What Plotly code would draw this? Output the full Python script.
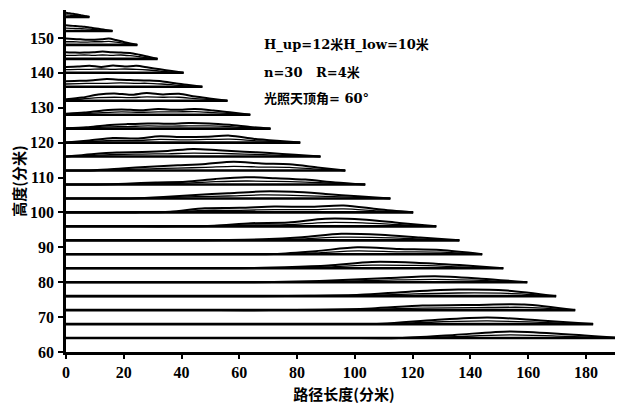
import plotly.graph_objects as go

# baseline heights of the profiles (分米)
HEIGHTS = [156, 152, 148, 144, 140, 136, 132, 128, 124, 120, 116, 112,
           108, 104, 100, 96, 92, 88, 84, 80, 76, 72, 68, 64]
# path length at which each profile ends (分米)
END_X = [8.1, 16.1, 24.7, 31.7, 40.7, 47.2, 55.9, 63.8, 70.8, 81.1, 88.1, 96.7,
         103.6, 112.3, 120.2, 128.2, 136.2, 144.1, 151.4, 159.7, 169.7, 176.3, 182.5, 192.2]
# sampling fractions of each profile length
FRAC = [0, 0.1, 0.2, 0.3, 0.4, 0.5, 0.6, 0.7, 0.8, 0.9, 1.0]
# outer upper-curve height above baseline at each fraction
UPPER = [
    [1.2, 1.1, 1.0, 0.9, 0.8, 0.7, 0.55, 0.4, 0.3, 0.15, 0],
    [1.6, 1.5, 1.4, 1.3, 1.2, 1.0, 0.8, 0.6, 0.4, 0.2, 0],
    [1.8, 1.7, 1.6, 1.5, 1.5, 1.6, 1.8, 1.4, 0.9, 0.4, 0],
    [1.9, 1.8, 1.8, 1.9, 2.1, 1.9, 1.8, 1.7, 1.2, 0.6, 0],
    [1.7, 1.8, 2.0, 1.7, 2.1, 1.8, 2.0, 1.5, 1.0, 0.5, 0],
    [1.6, 1.7, 1.9, 2.2, 2.0, 1.9, 1.8, 1.6, 1.0, 0.5, 0],
    [0.4, 0.9, 1.8, 2.1, 1.7, 2.2, 1.8, 2.0, 1.2, 0.6, 0],
    [0.3, 0.6, 1.2, 1.5, 1.3, 1.6, 1.4, 1.6, 1.2, 0.6, 0],
    [0.1, 0.4, 1.0, 1.3, 1.5, 1.4, 1.6, 1.5, 1.1, 0.5, 0],
    [0.0, 0.6, 1.3, 1.2, 1.8, 1.6, 1.7, 2.0, 1.1, 0.5, 0],
    [0.0, 0.7, 1.2, 1.3, 1.6, 2.2, 1.8, 1.4, 1.0, 0.5, 0],
    [0.0, 0.1, 0.6, 1.1, 1.5, 1.9, 2.5, 2.0, 1.8, 0.9, 0],
    [0.0, 0.0, 0.2, 0.6, 0.8, 1.6, 2.1, 1.8, 1.4, 0.6, 0],
    [0.0, 0.0, 0.0, 0.4, 1.0, 1.5, 2.0, 1.9, 1.3, 0.6, 0],
    [0.0, 0.0, 0.0, 0.2, 1.2, 1.3, 1.7, 1.6, 2.0, 0.9, 0],
    [0.0, 0.0, 0.0, 0.0, 0.2, 0.9, 1.1, 2.2, 2.0, 1.0, 0],
    [0.0, 0.0, 0.0, 0.0, 0.1, 0.3, 0.9, 1.9, 1.6, 0.8, 0],
    [0.0, 0.0, 0.0, 0.0, 0.0, 0.1, 0.9, 2.0, 1.5, 1.2, 0],
    [0.0, 0.0, 0.0, 0.0, 0.0, 0.3, 0.8, 1.8, 1.6, 0.9, 0],
    [0.0, 0.0, 0.0, 0.0, 0.0, 0.2, 0.6, 1.2, 1.7, 1.0, 0],
    [0.0, 0.0, 0.0, 0.0, 0.0, 0.1, 0.4, 1.3, 1.9, 1.6, 0],
    [0.0, 0.0, 0.0, 0.0, 0.0, 0.1, 0.5, 1.3, 1.5, 1.6, 0],
    [0.0, 0.0, 0.0, 0.0, 0.0, 0.0, 0.1, 1.2, 1.9, 1.0, 0],
    [0.0, 0.0, 0.0, 0.0, 0.0, 0.0, 0.0, 0.9, 1.9, 1.1, 0],
]
# inner curve height above baseline at each fraction
INNER = [
    [0.6, 0.55, 0.5, 0.45, 0.4, 0.35, 0.3, 0.2, 0.15, 0.1, 0],
    [0.8, 0.75, 0.7, 0.65, 0.6, 0.5, 0.4, 0.3, 0.2, 0.1, 0],
    [0.9, 0.9, 0.8, 0.8, 0.9, 0.9, 1.0, 0.8, 0.5, 0.2, 0],
    [1.0, 1.0, 1.1, 1.0, 1.1, 1.0, 1.1, 0.9, 0.6, 0.3, 0],
    [0.9, 1.0, 1.0, 1.1, 1.0, 1.1, 1.0, 0.8, 0.5, 0.2, 0],
    [0.8, 0.9, 1.0, 1.0, 1.1, 1.0, 1.0, 0.8, 0.5, 0.2, 0],
    [0.2, 0.5, 0.9, 1.0, 0.9, 1.1, 1.0, 1.0, 0.6, 0.3, 0],
    [0.1, 0.3, 0.6, 0.8, 0.7, 0.8, 0.8, 0.9, 0.6, 0.3, 0],
    [0.0, 0.2, 0.5, 0.6, 0.8, 0.7, 0.8, 0.8, 0.6, 0.2, 0],
    [0.0, 0.3, 0.6, 0.6, 0.9, 0.8, 0.9, 1.0, 0.6, 0.2, 0],
    [0.0, 0.3, 0.6, 0.7, 0.8, 1.0, 0.9, 0.7, 0.5, 0.2, 0],
    [0.0, 0.0, 0.3, 0.5, 0.7, 0.9, 1.2, 1.0, 0.9, 0.4, 0],
    [0.0, 0.0, 0.1, 0.3, 0.4, 0.8, 1.0, 0.9, 0.7, 0.3, 0],
    [0.0, 0.0, 0.0, 0.2, 0.5, 0.7, 1.0, 0.9, 0.6, 0.3, 0],
    [0.0, 0.0, 0.0, 0.1, 0.6, 0.6, 0.8, 0.8, 1.0, 0.4, 0],
    [0.0, 0.0, 0.0, 0.0, 0.1, 0.4, 0.5, 1.1, 1.0, 0.5, 0],
    [0.0, 0.0, 0.0, 0.0, 0.0, 0.1, 0.4, 0.9, 0.8, 0.4, 0],
    [0.0, 0.0, 0.0, 0.0, 0.0, 0.0, 0.4, 1.0, 0.7, 0.6, 0],
    [0.0, 0.0, 0.0, 0.0, 0.0, 0.1, 0.4, 0.9, 0.8, 0.4, 0],
    [0.0, 0.0, 0.0, 0.0, 0.0, 0.1, 0.3, 0.6, 0.8, 0.5, 0],
    [0.0, 0.0, 0.0, 0.0, 0.0, 0.0, 0.2, 0.6, 0.9, 0.8, 0],
    [0.0, 0.0, 0.0, 0.0, 0.0, 0.0, 0.2, 0.6, 0.7, 0.8, 0],
    [0.0, 0.0, 0.0, 0.0, 0.0, 0.0, 0.0, 0.6, 0.9, 0.5, 0],
    [0.0, 0.0, 0.0, 0.0, 0.0, 0.0, 0.0, 0.4, 0.9, 0.5, 0],
]

X_TICKS = [0, 20, 40, 60, 80, 100, 120, 140, 160, 180]
Y_TICKS = [60, 70, 80, 90, 100, 110, 120, 130, 140, 150]

NOTE_LINES = ["H_up=12米H_low=10米", "n=30   R=4米", "光照天顶角= 60°"]


def curve_points(offset_rows):
    xs, ys = [], []
    for h, xe, offs in zip(HEIGHTS, END_X, offset_rows):
        xs += [f * xe for f in FRAC] + [None]
        ys += [h + o for o in offs] + [None]
    return xs, ys


base_x, base_y = [], []
for h, xe in zip(HEIGHTS, END_X):
    base_x += [0, xe, None]
    base_y += [h, h, None]
up_x, up_y = curve_points(UPPER)
in_x, in_y = curve_points(INNER)

fig = go.Figure()
fig.add_trace(go.Scatter(x=base_x, y=base_y, mode="lines",
                         line=dict(color="black", width=2.6), hoverinfo="skip"))
fig.add_trace(go.Scatter(x=in_x, y=in_y, mode="lines",
                         line=dict(color="black", width=1.3, shape="spline", smoothing=0.8),
                         hoverinfo="skip"))
fig.add_trace(go.Scatter(x=up_x, y=up_y, mode="lines",
                         line=dict(color="black", width=2.0, shape="spline", smoothing=0.8),
                         hoverinfo="skip"))

tickfont = dict(family="Liberation Serif", size=16, color="black", weight="bold")
cjk = "Noto Sans CJK SC"

# the page body adds an 8px offset, so the figure is 8px smaller on each side
fig.update_layout(
    width=615, height=400,
    margin=dict(l=57.5, r=1, t=2, b=56),
    paper_bgcolor="white", plot_bgcolor="white",
    showlegend=False,
    xaxis=dict(range=[0, 192.5], tickvals=X_TICKS, ticks="outside", ticklen=4,
               tickwidth=1.5, tickcolor="black", showgrid=False, zeroline=False,
               showline=True, linecolor="black", linewidth=2.5, tickfont=tickfont,
               ticklabelstandoff=0, automargin=False,
               title=dict(text="路径长度(分米)", standoff=10,
                          font=dict(family=cjk, size=15, color="black", weight="bold"))),
    yaxis=dict(range=[60, 158], tickvals=Y_TICKS, ticks="outside", ticklen=5,
               tickwidth=1.5, tickcolor="black", showgrid=False, zeroline=False,
               showline=True, linecolor="black", linewidth=2.5, tickfont=tickfont,
               ticklabelstandoff=1, automargin=False,
               title=dict(text="高度(分米)", standoff=8,
                          font=dict(family=cjk, size=15, color="black", weight="bold"))),
)

note_y = [148, 140, 132.5]
for txt, yy in zip(NOTE_LINES, note_y):
    fig.add_annotation(x=68, y=yy, xref="x", yref="y", text=txt, showarrow=False,
                       xanchor="left", yanchor="middle",
                       font=dict(family="DejaVu Serif, " + cjk, size=13, color="black",
                                 weight="bold"))

fig.write_html("out.html")
